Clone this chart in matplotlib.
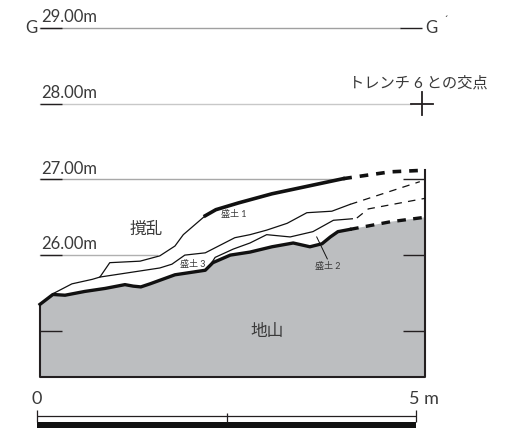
from matplotlib import pyplot as plt

plt.rcParams['font.family'] = ['Lato', 'Noto Sans CJK JP', 'DejaVu Sans']

# distance along section (m) / elevation (m)
ground_x = [0.04, 0.21, 0.37, 0.63, 0.90, 1.16, 1.27, 1.37, 1.49, 1.82, 2.22, 2.32, 2.55, 2.81, 3.10, 3.38, 3.60, 3.76, 3.87, 3.97, 4.13]
ground_z = [25.35, 25.48, 25.47, 25.52, 25.56, 25.61, 25.59, 25.58, 25.62, 25.74, 25.80, 25.90, 26.00, 26.04, 26.11, 26.16, 26.11, 26.15, 26.24, 26.31, 26.34]
ground_dash_x = [4.13, 4.66, 5.12]
ground_dash_z = [26.34, 26.44, 26.50]

surface_thin_x = [0.21, 0.46, 0.73, 0.83, 0.96, 1.36, 1.62, 1.82, 1.93, 2.22]
surface_thin_z = [25.49, 25.62, 25.68, 25.71, 25.90, 25.92, 25.99, 26.12, 26.27, 26.52]
surface_x = [2.22, 2.36, 2.66, 3.10, 4.04]
surface_z = [26.52, 26.60, 26.69, 26.81, 27.01]
surface_dash_x = [4.04, 4.66, 5.09]
surface_dash_z = [27.01, 27.10, 27.12]

layer3_x = [0.83, 1.62, 1.78, 1.95, 2.22, 2.61, 2.81, 3.03, 3.30, 3.56, 3.89, 4.13]
layer3_z = [25.71, 25.83, 25.88, 26.00, 26.03, 26.23, 26.27, 26.33, 26.42, 26.56, 26.58, 26.67]
layer3_dash_x = [4.13, 5.05]
layer3_dash_z = [26.67, 26.97]

layer2_x = [2.26, 2.35, 2.59, 2.81, 3.03, 3.34, 3.64, 3.91, 4.16]
layer2_z = [25.83, 25.97, 26.08, 26.16, 26.27, 26.24, 26.31, 26.46, 26.48]
layer2_dash_x = [4.22, 4.37, 5.12]
layer2_dash_z = [26.49, 26.61, 26.75]

leader_x = [3.69, 3.83]
leader_z = [26.24, 25.95]

levels = [29, 28, 27, 26]
level_ends = [4.79, 4.93, 4.04, 1.58]
level_colors = ["#a0a0a0", "#c8c8c8", "#a8a8a8", "#b0b0b0"]
level_labels = ["29.00m", "28.00m", "27.00m", "26.00m"]
left_ticks = [29, 28, 27, 26, 25]
right_ticks = [27, 26, 25]

frame_left, frame_right, frame_bottom = 0.04, 5.12, 24.39
tick_len = 0.29
dark = "#231f20"
text_col = "#3a3a3a"

fig = plt.figure(figsize=(5.26, 4.28), dpi=100)
ax = fig.add_axes([0, 0, 1, 1])
ax.set_xlim(-0.488, 6.451)
ax.set_ylim(23.716, 29.37)
ax.axis("off")

# level lines
for z, end, col, lab in zip(levels, level_ends, level_colors, level_labels):
    ax.plot([frame_left, end], [z, z], color=col, lw=1.0, zorder=1)
    ax.text(frame_left + 0.01, z + 0.035, lab, fontsize=12, color=text_col, va="bottom", ha="left")
ax.hlines(left_ticks, frame_left, frame_left + tick_len, color=dark, lw=1.0, zorder=4)
ax.hlines(right_ticks, frame_right - tick_len, frame_right, color=dark, lw=1.0, zorder=4)
ax.hlines(29, 4.79, 5.08, color=dark, lw=1.0)

# ground fill and frame
fill_x = ground_x + ground_dash_x[1:] + [frame_right, frame_left]
fill_z = ground_z + ground_dash_z[1:] + [frame_bottom, frame_bottom]
ax.fill(fill_x, fill_z, color="#bcbec0", lw=0, zorder=2)
ax.plot([frame_left, frame_left, frame_right, frame_right],
        [ground_z[0], frame_bottom, frame_bottom, surface_dash_z[-1]], color=dark, lw=1.5, zorder=4)

# section lines
ax.plot(ground_x, ground_z, color="#111111", lw=2.4, zorder=5)
ax.plot(ground_dash_x, ground_dash_z, color="#111111", lw=2.4, dashes=(2.6, 2.2), zorder=5)
ax.plot(surface_thin_x, surface_thin_z, color="#111111", lw=0.9, zorder=5)
ax.plot(surface_x, surface_z, color="#111111", lw=2.6, zorder=5)
ax.plot(surface_dash_x, surface_dash_z, color="#111111", lw=2.6, dashes=(2.4, 2.2), zorder=5)
ax.plot(layer3_x, layer3_z, color="#111111", lw=0.9, zorder=5)
ax.plot(layer3_dash_x, layer3_dash_z, color="#111111", lw=0.9, dashes=(6, 5), zorder=5)
ax.plot(layer2_x, layer2_z, color="#111111", lw=0.9, zorder=5)
ax.plot(layer2_dash_x, layer2_dash_z, color="#111111", lw=0.9, dashes=(6, 5), zorder=5)
ax.plot(leader_x, leader_z, color="#111111", lw=0.7, zorder=5)

# trench 6 crossing mark
ax.plot([4.93, 5.22], [28, 28], color=dark, lw=1.3)
ax.plot([5.08, 5.08], [27.85, 28.15], color=dark, lw=1.3)

# labels
ax.text(-0.07, 29.0, "G", fontsize=12, color=text_col, ha="center", va="center")
ax.text(5.12, 29.0, "G", fontsize=12, color=text_col, ha="left", va="center")
ax.text(5.39, 29.1, "´", fontsize=8, color=text_col, ha="center", va="center")
ax.text(5.95, 28.17, "トレンチ 6 との交点", fontsize=11, color=text_col, ha="right", va="bottom")
ax.text(1.44, 26.34, "撹乱", fontsize=12, color=text_col, ha="center", va="center")
ax.text(3.04, 25.0, "地山", fontsize=12, color=text_col, ha="center", va="center")
ax.text(2.59, 26.54, "盛土 1", fontsize=6.5, color=text_col, ha="center", va="center")
ax.text(2.06, 25.88, "盛土 3", fontsize=6.5, color=text_col, ha="center", va="center")
ax.text(3.84, 25.85, "盛土 2", fontsize=6.5, color=text_col, ha="center", va="center")

# scale bar
ax.hlines(23.87, 0, 5, color=dark, lw=0.9)
ax.vlines([0, 5], 23.79, 23.96, color=dark, lw=0.9)
ax.vlines(2.5, 23.79, 23.92, color=dark, lw=0.9)
ax.fill_between([0, 5], 23.716, 23.79, color="#111111", lw=0)
ax.text(0, 24.0, "0", fontsize=13, color=text_col, ha="center", va="bottom")
ax.text(5.1, 24.0, "5 m", fontsize=13, color=text_col, ha="center", va="bottom")

fig.savefig("out.png", dpi=100)
